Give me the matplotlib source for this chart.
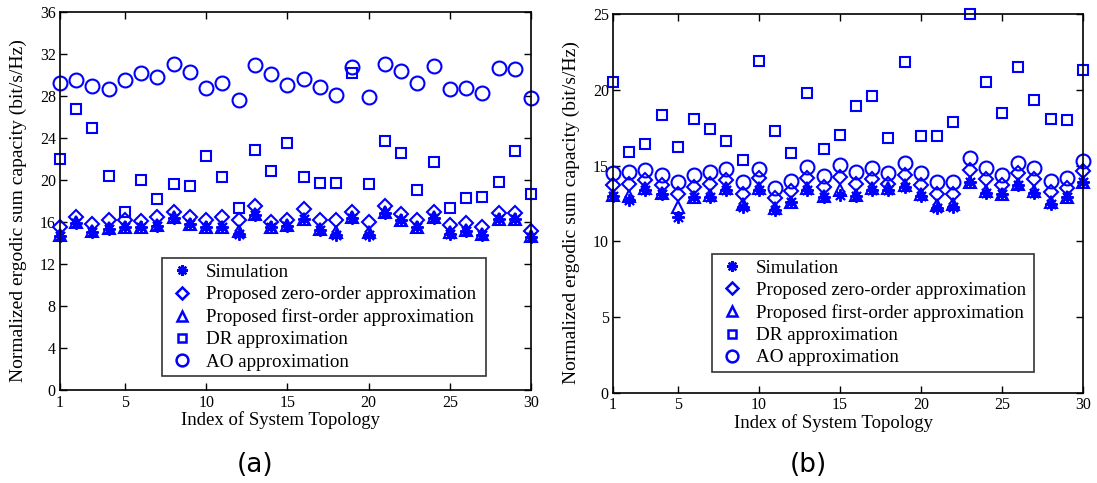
import matplotlib
matplotlib.use("Agg")
import matplotlib.pyplot as plt
from matplotlib.lines import Line2D

# Topology indices
topology = list(range(1, 31))

# Panel (a) values (bit/s/Hz)
sim_a = [14.7, 15.9, 15.1, 15.4, 15.5, 15.5, 15.6, 16.4, 15.8, 15.5,
         15.5, 14.9, 16.7, 15.5, 15.6, 16.3, 15.3, 14.8, 16.4, 14.8,
         16.9, 16.2, 15.5, 16.4, 14.9, 15.2, 14.8, 16.3, 16.3, 14.6]
zero_a = [15.55, 16.5, 15.85, 16.2, 16.2, 16.1, 16.5, 16.97, 16.5, 16.2,
          16.5, 16.25, 17.5, 16.0, 16.25, 17.3, 16.2, 16.25, 16.97, 16.0,
          17.5, 16.8, 16.25, 16.97, 15.7, 15.93, 15.55, 16.9, 16.9, 15.2]
first_a = [14.75, 16.0, 15.2, 15.45, 15.55, 15.55, 15.7, 16.5, 15.85, 15.55,
           15.55, 15.15, 16.8, 15.55, 15.7, 16.35, 15.4, 15.05, 16.5, 15.05,
           16.97, 16.25, 15.55, 16.5, 15.05, 15.3, 14.9, 16.35, 16.35, 14.65]
dr_a = [22.0, 26.75, 25.0, 20.4, 17.0, 20.0, 18.2, 19.6, 19.45, 22.3,
        20.3, 17.35, 22.9, 20.9, 23.5, 20.3, 19.7, 19.7, 30.2, 19.6,
        23.7, 22.6, 19.1, 21.7, 17.35, 18.3, 18.4, 19.8, 22.8, 18.7]
ao_a = [29.2, 29.5, 29.0, 28.7, 29.5, 30.2, 29.85, 31.1, 30.3, 28.8,
        29.25, 27.6, 31.0, 30.1, 29.1, 29.6, 28.9, 28.1, 30.8, 27.9,
        31.1, 30.4, 29.2, 30.9, 28.7, 28.8, 28.3, 30.7, 30.6, 27.8]

# Panel (b) values (bit/s/Hz)
sim_b = [13.0, 12.7, 13.4, 13.1, 11.6, 12.9, 12.9, 13.4, 12.3, 13.4,
         12.1, 12.6, 13.4, 12.9, 13.05, 13.0, 13.4, 13.4, 13.6, 13.0,
         12.2, 12.3, 13.9, 13.2, 13.1, 13.7, 13.2, 12.5, 12.9, 13.9]
zero_b = [13.7, 13.8, 14.05, 13.75, 13.15, 13.6, 13.8, 14.05, 13.15, 14.15,
          12.85, 13.3, 14.15, 13.6, 14.25, 13.8, 14.1, 13.8, 14.4, 13.7,
          13.15, 13.15, 14.7, 14.1, 13.7, 14.5, 14.1, 13.25, 13.55, 14.65]
first_b = [13.05, 13.0, 13.5, 13.2, 12.3, 12.95, 13.05, 13.5, 12.5, 13.5,
           12.2, 12.6, 13.5, 13.0, 13.4, 13.05, 13.5, 13.5, 13.7, 13.1,
           12.4, 12.45, 13.95, 13.3, 13.15, 13.8, 13.3, 12.6, 12.95, 13.95]
dr_b = [20.5, 15.9, 16.4, 18.35, 16.2, 18.1, 17.4, 16.6, 15.4, 21.9,
        17.3, 15.8, 19.8, 16.1, 17.0, 18.9, 19.6, 16.8, 21.85, 16.95,
        16.95, 17.9, 25.0, 20.5, 18.5, 21.5, 19.3, 18.05, 18.0, 21.3]
ao_b = [14.5, 14.6, 14.7, 14.4, 13.95, 14.35, 14.6, 14.8, 13.95, 14.8,
        13.55, 14.0, 14.9, 14.3, 15.05, 14.55, 14.85, 14.5, 15.15, 14.5,
        13.95, 13.95, 15.5, 14.85, 14.4, 15.15, 14.85, 14.0, 14.2, 15.3]

series_labels = ["Simulation",
                 "Proposed zero-order approximation",
                 "Proposed first-order approximation",
                 "DR approximation",
                 "AO approximation"]
x_ticks = [1, 5, 10, 15, 20, 25, 30]
y_ticks_a = [0, 4, 8, 12, 16, 20, 24, 28, 32, 36]
y_ticks_b = [0, 5, 10, 15, 20, 25]

BLUE = "#0000ff"
SERIF = ["Liberation Serif", "DejaVu Serif"]

styles = [
    dict(marker=(8, 2, 0), ms=9, mew=1.4),
    dict(marker="D", ms=7.5, mew=1.5),
    dict(marker="^", ms=8.5, mew=1.5),
    dict(marker="s", ms=7.5, mew=1.5),
    dict(marker="o", ms=10, mew=1.5),
]

fig = plt.figure(figsize=(10.97, 4.83), dpi=100)
ax_a = fig.add_axes([0.0547, 0.1917, 0.4294, 0.7834])
ax_b = fig.add_axes([0.5588, 0.1863, 0.4284, 0.7847])


def draw_panel(ax, data, yticks, ymax, legend_box, tag, tag_x):
    for vals, st, lab in zip(data, styles, series_labels):
        ax.plot(topology, vals, linestyle="none", color=BLUE,
                markerfacecolor="none", markeredgecolor=BLUE,
                marker=st["marker"], markersize=st["ms"],
                markeredgewidth=st["mew"], label=lab, clip_on=False)
    ax.set_xlim(1, 30)
    ax.set_ylim(0, ymax)
    ax.set_xticks(x_ticks)
    ax.set_yticks(yticks)
    ax.tick_params(direction="in", top=True, right=True, length=5,
                   width=1, labelsize=11.5, pad=3)
    for t in ax.get_xticklabels() + ax.get_yticklabels():
        t.set_fontfamily(SERIF)
    for sp in ax.spines.values():
        sp.set_linewidth(1.2)
    ax.set_xlabel("Index of System Topology", fontsize=13.5,
                  fontfamily=SERIF)
    ax.xaxis.set_label_coords(0.469, -0.055, transform=ax.transAxes)
    ax.set_ylabel("Normalized ergodic sum capacity (bit/s/Hz)",
                  fontsize=14, fontfamily=SERIF)
    ax.yaxis.set_label_coords(-0.07, 0.475, transform=ax.transAxes)

    handles = [Line2D([], [], linestyle="none", color=BLUE,
                      markerfacecolor="none", markeredgecolor=BLUE,
                      marker=st["marker"], markersize=st["ms"] * 0.85,
                      markeredgewidth=st["mew"] + 0.3)
               for st in styles]
    leg = ax.legend(handles, series_labels, loc="lower left",
                    bbox_to_anchor=legend_box, mode="expand",
                    prop={"family": SERIF, "size": 13.7},
                    frameon=True, fancybox=False, shadow=False,
                    borderpad=0.3, labelspacing=0.26, handlelength=1.5,
                    handletextpad=0.5, borderaxespad=0)
    fr = leg.get_frame()
    fr.set_edgecolor("black")
    fr.set_linewidth(1.2)
    fig.text(tag_x, 0.038, tag, fontsize=19, fontfamily="DejaVu Sans",
             ha="center", va="center")


# legend boxes in axes coordinates (x0, y0, width, height)
draw_panel(ax_a, [sim_a, zero_a, first_a, dr_a, ao_a], y_ticks_a, 36,
           (0.2166, 0.037, 0.6877, 0.322), "(a)", 0.2325)
draw_panel(ax_b, [sim_b, zero_b, first_b, dr_b, ao_b], y_ticks_b, 25,
           (0.2106, 0.055, 0.6851, 0.325), "(b)", 0.7365)

fig.savefig("out.png", dpi=100)
